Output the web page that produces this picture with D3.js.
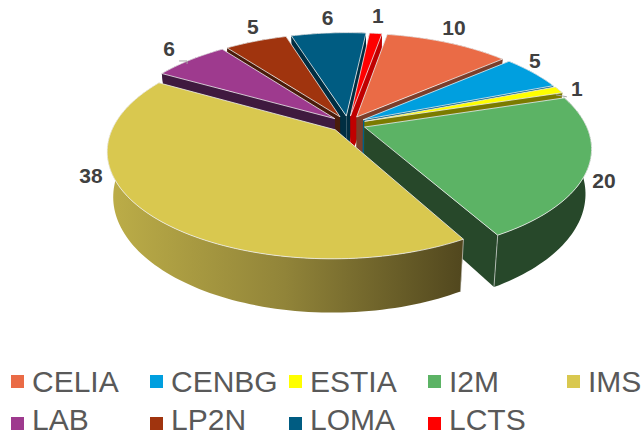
<!DOCTYPE html>
<html lang="en">
  <head>
    <meta charset="utf-8">
    <script src="https://cdnjs.cloudflare.com/ajax/libs/d3/7.8.5/d3.min.js"></script>
    <style>
      html, body { margin: 0; padding: 0; background: #fff; }
      svg { display: block; }
    </style>
  </head>
  <body>
    <script type="text/javascript">
      // Data
      var labs = ["CELIA", "CENBG", "ESTIA", "I2M", "IMS", "LAB", "LP2N", "LOMA", "LCTS"];
      var counts = [10, 5, 1, 20, 38, 6, 5, 6, 1];
      var topColors = ["#ea6b46", "#009fdf", "#ffff00", "#5cb365", "#d9c84f", "#9e3a8e", "#a0340e", "#005c82", "#ff0000"];
      var wallColors = ["#7b3e2b", "#005f85", "#7b7b00", "#27482a", "#544a1e", "#3f1a3f", "#4a1c0a", "#002e42", "#c00000"];
      // label offset from the rim middle of each slice
      var labelNudge = [[6, -15], [2, -12], [18, -1], [16, 12], [-59, -39], [-21, -11], [-3, -15], [-1, -15], [2, -18]];

      // Visuals
      var svgWidth = 643;
      var svgHeight = 436;
      var cx = 348, cy = 124;
      var R = 221, Ry = 102;
      var k = 0.19;       // perspective
      var depth = 43;
      var shrink = 0.025;
      var explode = 0.08;
      var rotation = 10 * Math.PI / 180;

      var svg = d3.select("body")
        .append("svg")
        .attr("width", svgWidth)
        .attr("height", svgHeight);

      var grad = svg.append("defs").append("linearGradient")
        .attr("id", "imsSide")
        .attr("gradientUnits", "userSpaceOnUse")
        .attr("x1", 107).attr("x2", 463).attr("y1", 0).attr("y2", 0);
      grad.append("stop").attr("offset", 0).attr("stop-color", "#bdae48");
      grad.append("stop").attr("offset", 0.5).attr("stop-color", "#918439");
      grad.append("stop").attr("offset", 1).attr("stop-color", "#51471e");

      // disc coordinates to screen, top face
      function project(X, Y) {
        var s = 1 / (1 - k * Y);
        return [cx + X * R * s, cy + Y * Ry * s, s];
      }
      // same point on the bottom face
      function lower(p) {
        return [p[0] + (cx - p[0]) * shrink, p[1] + depth * p[2]];
      }

      var pie = d3.pie().sort(null)
        .startAngle(rotation)
        .endAngle(rotation + 2 * Math.PI);

      var slices = pie(counts).map(function(d, i) {
        var mid = (d.startAngle + d.endAngle) / 2;
        var ox = Math.sin(mid) * explode, oy = -Math.cos(mid) * explode;
        var n = Math.max(2, Math.ceil((d.endAngle - d.startAngle) * 40));
        var rim = d3.range(n + 1).map(function(j) {
          var a = d.startAngle + (d.endAngle - d.startAngle) * j / n;
          return project(ox + Math.sin(a), oy - Math.cos(a));
        });
        return {
          i: i, mid: mid, rim: rim,
          startFront: Math.cos(d.startAngle) < 0,
          endFront: Math.cos(d.endAngle) < 0,
          apex: project(ox, oy),
          edge: project(ox + Math.sin(mid), oy - Math.cos(mid))
        };
      });

      var line = d3.line();
      var order = slices.slice().sort(function(a, b) {
        return d3.descending(Math.cos(a.mid), Math.cos(b.mid));
      });
      var cornerLine = "rgba(225,225,225,0.8)";

      // sides first, back to front
      var sides = svg.append("g");
      order.forEach(function(s) {
        var first = s.rim[0], last = s.rim[s.rim.length - 1];
        [first, last].forEach(function(p) {
          sides.append("path")
            .attr("d", line([s.apex, p, lower(p), lower(s.apex)]) + "Z")
            .attr("fill", wallColors[s.i]);
        });
        sides.append("path")
          .attr("d", line(s.rim.concat(s.rim.map(lower).reverse())) + "Z")
          .attr("fill", labs[s.i] === "IMS" ? "url(#imsSide)" : wallColors[s.i]);
        // light vertical line on the front corners
        if (s.startFront) {
          sides.append("path").attr("d", line([first, lower(first)]))
            .attr("stroke", cornerLine).attr("stroke-width", 0.8);
        }
        if (s.endFront) {
          sides.append("path").attr("d", line([last, lower(last)]))
            .attr("stroke", cornerLine).attr("stroke-width", 0.8);
        }
      });

      // top faces all sit on one plane, nothing rises over them
      var tops = svg.append("g");
      order.forEach(function(s) {
        tops.append("path")
          .attr("d", line([s.apex].concat(s.rim)) + "Z")
          .attr("fill", topColors[s.i])
          .attr("stroke", "#eeeeee")
          .attr("stroke-width", 0.8);
      });

      // leader lines
      [[2, [[-3, 5], [8, 7]]], [5, [[-11, 1], [-3, 1], [-3, 4]]]].forEach(function(l) {
        var e = slices[l[0]].edge;
        svg.append("path")
          .attr("d", line(l[1].map(function(p) { return [e[0] + p[0], e[1] + p[1]]; })))
          .attr("fill", "none")
          .attr("stroke", "#a6a6a6")
          .attr("stroke-width", 1);
      });

      slices.forEach(function(s) {
        svg.append("text")
          .attr("x", s.edge[0] + labelNudge[s.i][0])
          .attr("y", s.edge[1] + labelNudge[s.i][1])
          .attr("text-anchor", "middle")
          .attr("dominant-baseline", "central")
          .attr("font-family", "'Liberation Sans', sans-serif")
          .attr("font-weight", "bold")
          .attr("font-size", 21)
          .attr("fill", "#404040")
          .text(counts[s.i]);
      });

      // Legend
      var legendX = [11, 150, 289, 428, 567];
      var legendY = [381.5, 423.5];
      var legendBase = [392, 430];
      labs.forEach(function(name, i) {
        var col = i % 5, row = Math.floor(i / 5);
        svg.append("rect")
          .attr("x", legendX[col])
          .attr("y", legendY[row] - 6.5)
          .attr("width", 13)
          .attr("height", 13)
          .attr("fill", topColors[i]);
        svg.append("text")
          .attr("x", legendX[col] + 21)
          .attr("y", legendBase[row])
          .attr("font-family", "'Liberation Sans', sans-serif")
          .attr("font-size", 30)
          .attr("fill", "#595959")
          .text(name);
      });
    </script>
  </body>
</html>
